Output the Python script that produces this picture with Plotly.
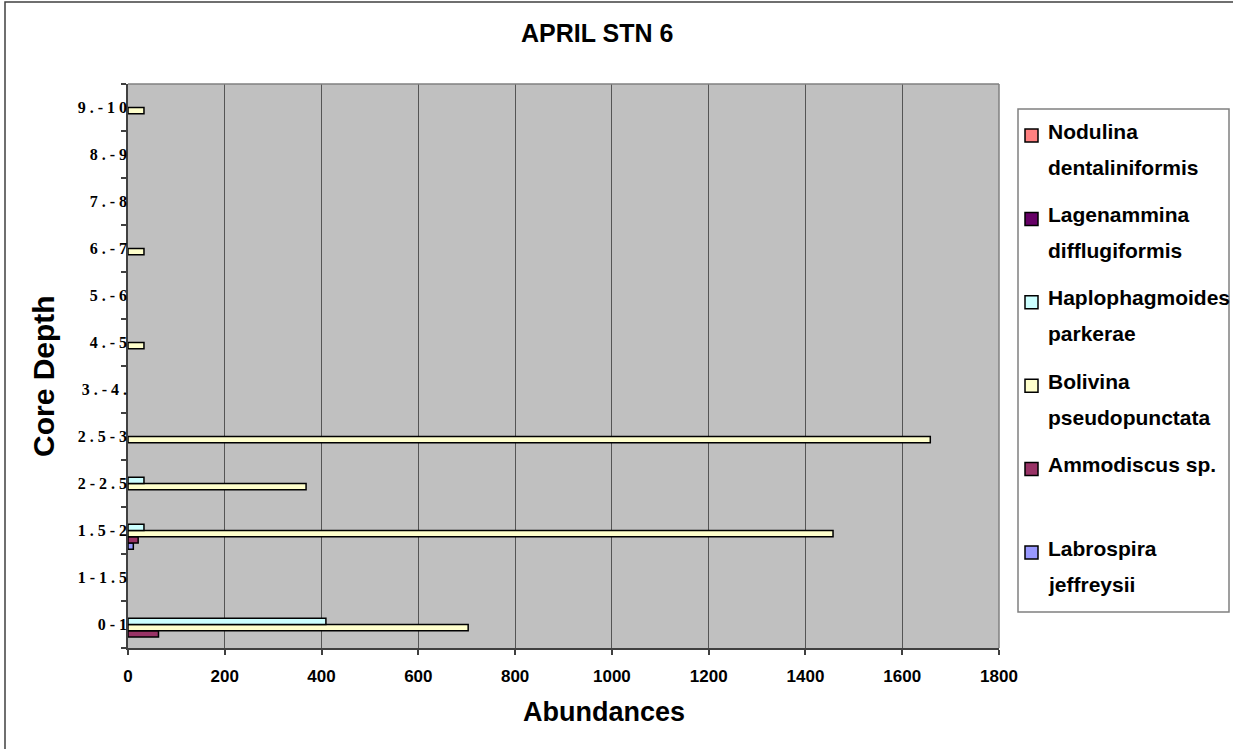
import plotly.graph_objects as go

# Categories (bottom to top) and series values (None = no bar)
categories = ["0-1", "1-1.5", "1.5-2", "2-2.5", "2.5-3", "3.-4.", "4.-5", "5.-6",
              "6.-7", "7.-8", "8.-9", "9.-10"]
tick_labels = [" ".join(c) for c in categories]

labrospira = [None, None, 11, None, None, None, None, None, None, None, None, None]
ammodiscus = [63, None, 21, None, None, None, None, None, None, None, None, None]
bolivina = [703, None, 1457, 368, 1658, None, 33, None, 33, None, None, 33]
haplophagmoides = [409, None, 33, 33, None, None, None, None, None, None, None, None]
lagenammina = [None] * 12
nodulina = [None] * 12

# traces listed bottom-to-top within each category group
series_names = ["Labrospira jeffreysii", "Ammodiscus sp.", "Bolivina pseudopunctata",
                "Haplophagmoides parkerae", "Lagenammina difflugiformis",
                "Nodulina dentaliniformis"]
legend_lines = [["Labrospira", "jeffreysii"], ["Ammodiscus sp."],
                ["Bolivina", "pseudopunctata"], ["Haplophagmoides", "parkerae"],
                ["Lagenammina", "difflugiformis"], ["Nodulina", "dentaliniformis"]]
series_values = [labrospira, ammodiscus, bolivina, haplophagmoides, lagenammina, nodulina]
series_colors = ["#9999FF", "#993366", "#FFFFCC", "#CCFFFF", "#660066", "#FF8080"]

x_ticks = list(range(0, 1801, 200))

fig = go.Figure()
for name, vals, col in zip(series_names, series_values, series_colors):
    fig.add_trace(go.Bar(
        y=categories, x=vals, name=name, orientation="h",
        marker=dict(color=col, line=dict(color="black", width=1.5)),
        showlegend=False,
    ))

W, H = 1233, 749
L, R, T, B = 128, 234, 84, 101
pw, ph = W - L - R, H - T - B

def px(x):
    return (x - L) / pw

def py(y):
    return (H - B - y) / ph

FONT = "Liberation Sans, Arial"

annotations = [
    dict(text="APRIL STN 6", xref="paper", yref="paper", x=px(597), y=py(33),
         xanchor="center", yanchor="middle", showarrow=False,
         font=dict(size=25, weight="bold", family=FONT)),
    dict(text="Abundances", xref="paper", yref="paper", x=px(604), y=py(712),
         xanchor="center", yanchor="middle", showarrow=False,
         font=dict(size=27, weight="bold", family=FONT)),
    dict(text="Core Depth", xref="paper", yref="paper", x=px(43), y=py(376),
         xanchor="center", yanchor="middle", showarrow=False, textangle=-90,
         font=dict(size=30, weight="bold", family=FONT)),
]

shapes = [
    # plot area top/right border
    dict(type="line", xref="paper", yref="paper", x0=0, x1=1, y0=1, y1=1,
         line=dict(color="#808080", width=1.5)),
    dict(type="line", xref="paper", yref="paper", x0=1, x1=1, y0=0, y1=1,
         line=dict(color="#808080", width=1.5)),
    # outer chart border
    dict(type="rect", xref="paper", yref="paper", x0=px(5), x1=px(1260),
         y0=py(770), y1=py(2), line=dict(color="#404040", width=1.5),
         fillcolor="rgba(0,0,0,0)"),
    # legend box
    dict(type="rect", xref="paper", yref="paper", x0=px(1018), x1=px(1229),
         y0=py(612), y1=py(109), line=dict(color="#808080", width=1.5),
         fillcolor="white", layer="above"),
]

# legend entries, top to bottom (reverse of trace order)
first_y, step, line_gap = 131, 83.4, 36
for k, idx in enumerate(reversed(range(len(series_names)))):
    y0 = first_y + k * step
    shapes.append(dict(type="rect", xref="paper", yref="paper",
                       x0=px(1025), x1=px(1038), y0=py(y0 + 11), y1=py(y0 - 2),
                       fillcolor=series_colors[idx],
                       line=dict(color="black", width=1.5), layer="above"))
    for j, line in enumerate(legend_lines[idx]):
        annotations.append(dict(text=line, xref="paper", yref="paper",
                                x=px(1046), y=py(y0 + j * line_gap),
                                xanchor="left", yanchor="middle", showarrow=False,
                                font=dict(size=21, weight="bold", family=FONT)))

fig.update_layout(
    width=W, height=H,
    margin=dict(l=L, r=R, t=T, b=B, autoexpand=False),
    paper_bgcolor="white", plot_bgcolor="#C0C0C0",
    barmode="group", bargap=0.2, bargroupgap=0,
    font=dict(family=FONT, color="black"),
    showlegend=False,
    xaxis=dict(
        range=[0, 1800], tickvals=x_ticks, ticktext=[str(v) for v in x_ticks],
        showgrid=True, gridcolor="#555555", gridwidth=1,
        showline=True, linecolor="#404040", linewidth=1.5,
        ticks="outside", ticklen=5, tickcolor="#404040", tickwidth=1.5,
        tickfont=dict(family=FONT, size=17, color="black", weight="bold"),
        ticklabelstandoff=7, zeroline=False,
    ),
    yaxis=dict(
        type="category", categoryorder="array", categoryarray=categories,
        tickvals=categories, ticktext=tick_labels,
        showgrid=False, showline=True, linecolor="#404040", linewidth=1.5,
        ticks="outside", ticklen=5, tickcolor="#404040", tickwidth=1.5,
        tickson="boundaries",
        tickfont=dict(family="Liberation Serif, Times New Roman", size=16, color="black", weight="bold"),
        ticklabelstandoff=-4,
    ),
    annotations=annotations,
    shapes=shapes,
)

fig.write_html("out.html")
